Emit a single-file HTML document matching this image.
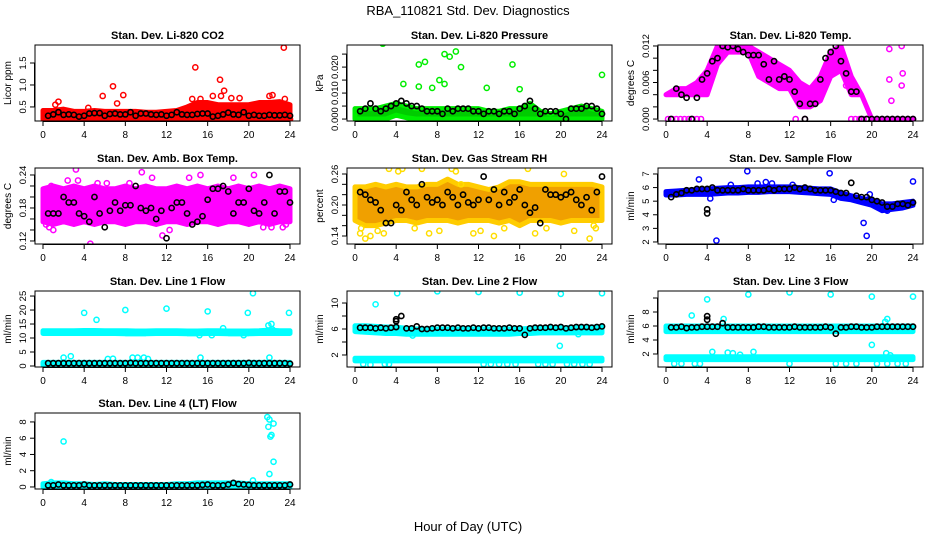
<!DOCTYPE html>
<html><head><meta charset="utf-8"><style>
body{margin:0;background:#fff;}
svg{display:block;font-family:"Liberation Sans",sans-serif;}
</style></head><body>
<svg id="chart" width="936" height="540" viewBox="0 0 936 540">
<rect width="936" height="540" fill="#fff"/>
<text x="468" y="15" text-anchor="middle" font-size="13">RBA_110821  Std. Dev. Diagnostics</text>
<text x="468" y="531" text-anchor="middle" font-size="13">Hour of Day (UTC)</text>
</svg>
<script>
// ---------- data ----------
const hoursBand = [0,1,2,3,4,5,6,7,8,9,10,11,12,13,14,15,16,17,18,19,20,21,22,23,24];
const blackHours = [0.5,1,1.5,2,2.5,3,3.5,4,4.5,5,5.5,6,6.5,7,7.5,8,8.5,9,9.5,10,10.5,11,11.5,12,12.5,13,13.5,14,14.5,15,15.5,16,16.5,17,17.5,18,18.5,19,19.5,20,20.5,21,21.5,22,22.5,23,23.5,24];
const xTicks = [0,4,8,12,16,20,24];

// P1 CO2
const co2Low = [0.22,0.22,0.22,0.22,0.22,0.22,0.22,0.22,0.22,0.22,0.22,0.22,0.22,0.22,0.22,0.22,0.22,0.22,0.22,0.22,0.22,0.22,0.22,0.22,0.22];
const co2High = [0.42,0.42,0.45,0.4,0.4,0.42,0.4,0.4,0.4,0.4,0.38,0.38,0.4,0.42,0.5,0.6,0.6,0.55,0.55,0.55,0.55,0.6,0.6,0.62,0.55];
const co2OutX = [1.5,1.2,5.8,6.8,7.2,7.8,4.4,14.5,14.8,15.3,17.2,17.6,17.3,16.5,18.3,19.1,22,22.3,23.4,23.5,24];
const co2OutY = [0.62,0.55,0.75,0.97,0.58,0.77,0.48,0.68,1.4,0.68,1.12,0.87,0.75,0.75,0.7,0.7,0.75,0.77,1.85,0.68,0.22];
const co2Black = [0.3,0.33,0.38,0.32,0.33,0.32,0.28,0.3,0.35,0.36,0.36,0.3,0.34,0.35,0.33,0.33,0.38,0.3,0.35,0.35,0.33,0.32,0.33,0.3,0.32,0.38,0.33,0.32,0.32,0.34,0.35,0.35,0.28,0.3,0.33,0.37,0.33,0.32,0.38,0.3,0.32,0.3,0.3,0.32,0.31,0.31,0.32,0.3];

// P2 pressure
const prLow = [0,0,0,0,0.0015,0.0005,0,0,0,0,0,0,0,0,0,0,0,0,0,0,0,0,0,0,0];
const prHigh = [0.004,0.004,0.004,0.005,0.006,0.005,0.004,0.004,0.004,0.004,0.004,0.004,0.004,0.003,0.003,0.004,0.004,0.006,0.003,0.002,0.003,0.004,0.005,0.004,0.003];
const prOutX = [2.7,4.7,6.2,6.8,8.7,9.2,9.8,10.3,8.2,8.7,7.5,6.2,15.3,24,16,12.8];
const prOutY = [0.029,0.0135,0.021,0.022,0.025,0.024,0.026,0.02,0.015,0.0135,0.012,0.0125,0.021,0.017,0.0115,0.012];
const prBlack = [0.003,0.004,0.006,0.004,0.003,0.004,0.005,0.006,0.007,0.006,0.005,0.005,0.004,0.003,0.003,0.003,0.002,0.004,0.003,0.004,0.004,0.004,0.003,0.003,0.002,0.003,0.003,0.002,0.003,0.003,0.002,0.004,0.005,0.007,0.004,0.002,0.003,0.003,0.003,0.002,0.0,0.004,0.004,0.004,0.005,0.005,0.004,0.002];

// P3 Li-820 temp
const tLow = [0.004,0.004,0.004,0.004,0.004,0.009,0.011,0.011,0.011,0.007,0.006,0.005,0.005,0.002,0.002,0.003,0.007,0.008,0.004,0.004,0,0,0,0,0];
const tHigh = [0.004,0.005,0.005,0.006,0.008,0.012,0.012,0.012,0.012,0.011,0.01,0.009,0.008,0.006,0.005,0.007,0.011,0.012,0.007,0.004,0,0,0,0,0];
const tOutX = [0.2,0.6,1.0,1.4,1.8,2.2,2.6,3.0,3.4,12.6,13.5,18.0,18.4,18.8,19.2,19.6,20,20.5,21,21.5,22,22.5,23,23.5,24,21.7,21.7,21.9,22.9,23,22.9,17.5];
const tOutY = [0,0,0,0,0,0,0,0,0,0,0,0,0,0,0,0,0,0,0,0,0,0,0,0,0,0.0115,0.0065,0.003,0.012,0.0075,0.0055,0.0055];
const tBlack = [0,0.005,0.004,0.0035,0,0.0035,0.0065,0.0075,0.0095,0.01,0.012,0.0118,0.012,0.0115,0.011,0.0105,0.0105,0.0105,0.009,0.0065,0.0095,0.0065,0.007,0.0065,0.0045,0.0025,0,0.0025,0.0025,0.0065,0.01,0.011,0.012,0.0095,0.0075,0.0045,0.0045,0,0,0,0,0,0,0,0,0,0,0];

// P4 box temp
const bLow = [0.155,0.15,0.155,0.15,0.155,0.15,0.155,0.155,0.15,0.155,0.155,0.15,0.155,0.155,0.15,0.155,0.155,0.15,0.155,0.155,0.15,0.155,0.15,0.155,0.155];
const bHigh = [0.215,0.22,0.215,0.22,0.215,0.22,0.215,0.215,0.22,0.215,0.22,0.215,0.215,0.22,0.215,0.22,0.215,0.22,0.215,0.22,0.215,0.22,0.215,0.22,0.215];
const bOutX = [0.3,0.6,1,1.5,2,2.4,3.2,3.4,4,4.2,4.6,5.3,6.2,6.6,7.8,8.4,9.6,10.6,11.6,12.3,14.2,15.3,18.5,20.5,21.4,22.2,23.3,23.6,23.5,1.6,0.8];
const bOutY = [0.15,0.145,0.14,0.19,0.16,0.23,0.25,0.23,0.2,0.16,0.115,0.225,0.225,0.2,0.215,0.225,0.245,0.235,0.13,0.14,0.235,0.24,0.235,0.24,0.145,0.145,0.145,0.15,0.215,0.155,0.22];
const bBlack = [0.17,0.17,0.17,0.2,0.19,0.19,0.17,0.165,0.155,0.2,0.17,0.145,0.175,0.19,0.175,0.185,0.185,0.22,0.18,0.175,0.18,0.16,0.175,0.125,0.18,0.19,0.19,0.17,0.15,0.155,0.165,0.195,0.215,0.215,0.22,0.21,0.17,0.19,0.19,0.215,0.175,0.17,0.19,0.24,0.17,0.21,0.21,0.19];

// P5 RH
const rhLow = [0.17,0.16,0.16,0.165,0.17,0.17,0.165,0.17,0.17,0.17,0.165,0.17,0.17,0.17,0.165,0.17,0.16,0.17,0.17,0.17,0.165,0.17,0.17,0.17,0.17];
const rhHigh = [0.235,0.235,0.24,0.235,0.24,0.235,0.235,0.24,0.24,0.25,0.24,0.24,0.235,0.23,0.235,0.245,0.245,0.24,0.24,0.24,0.24,0.24,0.24,0.24,0.235];
const rhOutX = [0.5,1,1.5,2.2,3.3,4.2,4.6,5.8,6.5,7.2,8.2,9.4,9.8,10.3,11.5,12.2,13.5,14.5,16.8,17.5,18.6,20.3,21.3,22.8,23.4,23.2,0.6,2.8];
const rhOutY = [0.145,0.135,0.14,0.15,0.27,0.265,0.27,0.155,0.27,0.145,0.15,0.27,0.265,0.24,0.145,0.15,0.14,0.155,0.27,0.145,0.155,0.26,0.15,0.135,0.155,0.16,0.155,0.145];
const rhBlack = [0.225,0.22,0.21,0.205,0.19,0.165,0.165,0.2,0.19,0.225,0.21,0.2,0.24,0.215,0.205,0.21,0.2,0.225,0.215,0.2,0.22,0.205,0.2,0.21,0.255,0.21,0.23,0.2,0.225,0.205,0.215,0.23,0.2,0.185,0.195,0.165,0.23,0.22,0.22,0.215,0.22,0.225,0.21,0.2,0.215,0.19,0.225,0.255];

// P6 sample flow
const sfLow = [5.45,5.45,5.5,5.5,5.5,5.55,5.6,5.6,5.65,5.65,5.7,5.7,5.7,5.65,5.6,5.55,5.5,5.2,5.1,4.9,4.7,4.3,4.4,4.5,4.7];
const sfHigh = [5.7,5.75,5.8,5.85,5.9,5.95,6.0,6.0,6.05,6.05,6.05,6.05,6.05,6.0,5.95,5.9,5.9,5.6,5.4,5.2,5.1,4.8,4.8,4.9,5.0];
const sfOutX = [3.2,4.3,4.9,7.9,9.7,10.3,8.9,15.9,16.3,19.2,19.5,19.8,24,21.5,6.3,12.3];
const sfOutY = [6.6,5.2,2.1,7.2,6.4,6.3,6.3,7.05,5.1,3.4,2.45,5.5,6.45,4.3,6.2,6.2];
const sfBlack = [5.3,5.5,5.6,5.8,5.8,5.9,5.9,5.9,6.0,5.8,5.8,5.8,5.8,5.8,5.9,5.8,5.8,5.8,5.8,5.9,5.8,5.9,5.9,5.9,6.0,5.9,6.0,5.9,5.8,5.8,5.8,5.8,5.7,5.6,5.6,6.35,5.4,5.3,5.3,5.1,5.0,4.9,4.6,4.6,4.8,4.8,4.7,4.9];
const sfBlackOutX = [4,4];
const sfBlackOutY = [4.4,4.1];

// P7 line 1
const l1HighA = [12.6,12.6,12.6,12.6,12.7,12.7,12.6,12.6,12.6,12.5,12.5,12.6,12.6,12.6,12.5,12.5,12.6,12.6,12.5,12.5,12.5,12.6,12.8,12.6,12.6];
const l1LowA = [11.6,11.6,11.6,11.6,11.6,11.6,11.6,11.6,11.5,11.5,11.5,11.6,11.6,11.6,11.5,11.5,11.6,11.6,11.5,11.5,11.5,11.6,11.6,11.6,11.6];
const l1HighB = [1.3,1.3,1.3,1.3,1.3,1.3,1.3,1.3,1.3,1.3,1.3,1.3,1.3,1.3,1.3,1.3,1.3,1.3,1.3,1.3,1.3,1.3,1.3,1.3,1.3];
const l1LowB = [0.3,0.3,0.3,0.3,0.3,0.3,0.3,0.3,0.3,0.3,0.3,0.3,0.3,0.3,0.3,0.3,0.3,0.3,0.3,0.3,0.3,0.3,0.3,0.3,0.3];
const l1OutX = [4,5.2,8,12,16,19.9,20.4,23.9,2,2.7,6.3,6.8,8.7,9.2,9.8,10.2,15.3,22,22.2,21.9,22.3,17.5,16.4,19.5,15.2];
const l1OutY = [19,16.5,20,20.5,19.5,19,26,19,3,3.5,2.5,2.6,3,3,3,2.5,3,3,15,14.5,13,13.5,11,11,11];
const l1Black = [1,1,1,1,1,1,1,1,1,1,1,1,1,1,1,1,1.1,1,1,1,1,1,1,1,1,1,1,1,1,1,1,1,1,1,1,1,1,1,1,1.1,1,1,1,1,1,1,1,0.8];

// P8 line 2
const l2HighA = [6.5,6.5,6.4,6.3,6.3,6.1,6.0,6.0,6.0,6.0,6.0,6.0,6.0,6.0,6.0,6.0,6.0,6.1,6.1,6.2,6.2,6.2,6.3,6.3,6.3];
const l2LowA = [5.6,5.5,5.4,5.3,5.3,5.2,5.2,5.2,5.2,5.2,5.2,5.2,5.2,5.2,5.2,5.2,5.3,5.3,5.4,5.4,5.4,5.4,5.4,5.4,5.4];
const l2HighB = [1.5,1.5,1.5,1.5,1.5,1.5,1.5,1.5,1.5,1.5,1.5,1.5,1.5,1.5,1.5,1.5,1.5,1.5,1.5,1.5,1.5,1.5,1.5,1.5,1.5];
const l2LowB = [1.1,1.1,1.1,1.1,1.1,1.1,1.1,1.1,1.1,1.1,1.1,1.1,1.1,1.1,1.1,1.1,1.1,1.1,1.1,1.1,1.1,1.1,1.1,1.1,1.1];
const l2OutX = [2,4.1,8,12,16,20,24,19.9,21.7,5.6,0.8,1.5,2.9,3.3,12.5,13.2,14,14.8,15.6,17.8,18.5,19.2,20.6,21.3,22.1,22.8];
const l2OutY = [9.8,11.5,11.8,11.7,11.6,11.4,11.5,3.4,5.2,5.0,0.6,0.5,0.6,0.6,0.6,0.6,0.6,0.6,0.6,0.6,0.6,0.6,0.6,0.6,0.6,0.6];
const l2Black = [6.2,6.2,6.2,6.1,6.2,6.1,6.2,6.3,8.0,6.1,6.1,6.4,6.0,6.0,6.1,6.2,6.2,6.2,6.1,6.2,6.1,6.1,6.2,6.1,6.2,6.2,6.1,6.1,6.1,6.2,6.1,6.1,5.1,6.1,6.2,6.2,6.2,6.3,6.2,6.3,6.1,6.2,6.3,6.3,6.3,6.2,6.3,6.4];
const l2BlackOutX = [4,4];
const l2BlackOutY = [7.2,7.5];

// P9 line 3
const l3HighA = [6.0,6.0,6.0,6.0,6.0,6.0,6.0,6.0,6.0,6.0,6.0,6.0,6.0,6.0,6.0,6.0,6.0,6.0,6.0,6.0,6.0,6.0,6.0,6.0,6.0];
const l3LowA = [5.2,5.2,5.2,5.2,5.2,5.2,5.2,5.2,5.2,5.2,5.2,5.2,5.2,5.2,5.2,5.2,5.2,5.2,5.2,5.2,5.2,5.2,5.2,5.2,5.2];
const l3HighB = [1.6,1.6,1.6,1.6,1.6,1.6,1.6,1.6,1.6,1.6,1.6,1.6,1.6,1.6,1.6,1.6,1.6,1.6,1.6,1.6,1.6,1.6,1.6,1.6,1.6];
const l3LowB = [1.2,1.2,1.2,1.2,1.2,1.2,1.2,1.2,1.2,1.2,1.2,1.2,1.2,1.2,1.2,1.2,1.2,1.2,1.2,1.2,1.2,1.2,1.2,1.2,1.2];
const l3OutX = [2.5,4,5.6,8,12,16,20,24,20,21.5,21.3,4.5,6,6.5,7.2,8.5,21.4,21.8,0.8,1.5,2.8,3.3,12,16.5,17.5,18.5,20.5,21.5,22.5,23.3];
const l3OutY = [7.5,9.8,7,10.5,10.8,10.5,10.2,10.2,3.3,7,6.6,2.3,2.2,2.1,1.9,2.3,2.1,1.8,0.6,0.6,0.6,0.6,0.6,0.6,0.6,0.6,0.6,0.6,0.6,0.6];
const l3Black = [5.8,5.8,5.9,5.7,5.8,5.8,5.9,5.9,5.9,5.9,6.4,5.8,5.8,5.8,5.8,5.8,5.8,5.9,5.9,5.8,5.8,5.8,5.8,5.8,5.9,5.8,5.8,5.8,5.8,5.8,5.9,5.8,4.9,5.8,5.8,5.9,5.9,5.8,5.8,5.8,5.9,5.9,5.9,5.9,5.9,5.9,5.9,5.9];
const l3BlackOutX = [4,4];
const l3BlackOutY = [6.9,7.4];

// P10 line 4
const l4Low = [0,0,0,0,0,0,0,0,0,0,0,0,0,0,0,0,0,0,0,0,0,0,0,0,0];
const l4High = [0.4,0.5,0.5,0.4,0.4,0.3,0.4,0.3,0.3,0.3,0.3,0.3,0.3,0.4,0.4,0.5,0.5,0.5,0.5,0.5,0.4,0.4,0.4,0.4,0.4];
const l4OutX = [2,21.8,21.9,22,22.1,22.2,22.4,22,22.4,20.4,0.8];
const l4OutY = [5.6,8.6,7.4,8.3,6.2,6.4,7.8,1.6,3.1,0.8,0.6];
const l4Black = [0.2,0.2,0.3,0.2,0.2,0.2,0.2,0.3,0.2,0.2,0.2,0.2,0.2,0.2,0.2,0.2,0.2,0.2,0.2,0.2,0.2,0.2,0.2,0.2,0.2,0.2,0.2,0.2,0.2,0.2,0.25,0.3,0.2,0.2,0.2,0.3,0.5,0.35,0.3,0.25,0.2,0.2,0.2,0.2,0.2,0.2,0.2,0.3];

// ---------- drawing ----------
const NS = "http://www.w3.org/2000/svg";
const svg = document.getElementById('chart');
function mk(tag, attrs, parent){
  const e = document.createElementNS(NS, tag);
  for (const k in attrs) e.setAttribute(k, attrs[k]);
  parent.appendChild(e);
  return e;
}
const colX = [35, 347, 658], rowY = [45, 168, 291, 413], PW = 265, PH = 76;

function panel(cfg){
  const L = colX[cfg.col], T = rowY[cfg.row];
  const g = mk('g', {}, svg);
  
  
  const sx = h => L + 8 + (h) * (247/24);
  const sy = v => T + PH - (v - cfg.ymin) / (cfg.ymax - cfg.ymin) * PH;
  const clip = 'clip-' + cfg.name;
  const cp = mk('clipPath', {id: clip}, g);
  mk('rect', {x: L, y: T, width: PW, height: PH}, cp);
  const pg = mk('g', {'clip-path': 'url(#' + clip + ')'}, g);
  (cfg.bands || []).forEach((b) => {
    let pts = hoursBand.map((h, i) => sx(h) + ',' + sy(b.hi[i]));
    pts = pts.concat(hoursBand.slice().reverse().map((h, j) => sx(h) + ',' + sy(b.lo[hoursBand.length - 1 - j])));
    const p = mk('polygon', {points: pts.join(' '), fill: b.fill || cfg.color, stroke: b.stroke || cfg.color, 'stroke-width': 5, 'stroke-linejoin': 'round'}, pg);
    
    
  });
  (cfg.outX || []).forEach((x, i) => {
    const c = mk('circle', {cx: sx(x), cy: sy(cfg.outY[i]), r: 2.6, fill: cfg.outFill || 'none', stroke: cfg.outStroke || cfg.color, 'stroke-width': 1.5}, pg);
    
    
  });
  cfg.black.forEach((v, i) => {
    const c = mk('circle', {cx: sx(blackHours[i]), cy: sy(v), r: 2.6, fill: 'none', stroke: '#000', 'stroke-width': 1.6}, pg);
    
    
  });
  (cfg.bOutX || []).forEach((x, i) => {
    const c = mk('circle', {cx: sx(x), cy: sy(cfg.bOutY[i]), r: 2.6, fill: 'none', stroke: '#000', 'stroke-width': 1.6}, pg);
    
    
  });
  const fr = mk('rect', {x: L, y: T, width: PW, height: PH, fill: 'none', stroke: '#000', 'stroke-width': 1}, g);
  
  
  const tt = mk('text', {x: L + PW/2, y: T - 6, 'text-anchor': 'middle', 'font-size': 11, 'font-weight': 'bold'}, g);
  tt.textContent = cfg.title;
  
  
  const xb = T + PH;
  mk('line', {x1: sx(0), x2: sx(24), y1: xb + 0.5, y2: xb + 0.5, stroke: '#000'}, g);
  xTicks.forEach(h => {
    mk('line', {x1: sx(h), x2: sx(h), y1: xb, y2: xb + 5, stroke: '#000'}, g);
    const t = mk('text', {x: sx(h), y: xb + 17, 'text-anchor': 'middle', 'font-size': 10}, g);
    t.textContent = h;
    
    
  });
  const yt = cfg.yticks;
  mk('line', {x1: L - 0.5, x2: L - 0.5, y1: sy(yt[0]), y2: sy(yt[yt.length - 1]), stroke: '#000'}, g);
  yt.forEach((v, i) => {
    mk('line', {x1: L - 5, x2: L, y1: sy(v), y2: sy(v), stroke: '#000'}, g);
    if (cfg.ylabels[i] !== '') {
      const t = mk('text', {x: L - 9, y: sy(v), 'text-anchor': 'middle', 'font-size': 9.5, transform: 'rotate(-90 ' + (L - 9) + ' ' + sy(v) + ')'}, g);
      t.textContent = cfg.ylabels[i];
      
      
    }
  });
  const yl = mk('text', {x: L - 24, y: T + PH/2, 'text-anchor': 'middle', 'font-size': 10, transform: 'rotate(-90 ' + (L - 24) + ' ' + (T + PH/2) + ')'}, g);
  yl.textContent = cfg.ylab;
  
  
}

const CY = '#00ffff', MG = '#ff00ff';
panel({name:'co2-panel', col:0,row:0, title:'Stan. Dev. Li-820 CO2', ylab:'Licor ppm', ymin:0.18, ymax:1.91, yticks:[0.5,1,1.5], ylabels:['0.5','1.0','1.5'], color:'#ff0000', bands:[{lo:co2Low,hi:co2High}], outX:co2OutX, outY:co2OutY, black:co2Black});
panel({name:'pressure-panel', col:1,row:0, title:'Stan. Dev. Li-820 Pressure', ylab:'kPa', ymin:-0.00075, ymax:0.0285, yticks:[0,0.005,0.01,0.015,0.02,0.025], ylabels:['0.000','','0.010','','0.020',''], color:'#00ee00', bands:[{lo:prLow,hi:prHigh,fill:'#00cc00'}], outX:prOutX, outY:prOutY, black:prBlack});
panel({name:'temp-panel', col:2,row:0, title:'Stan. Dev. Li-820 Temp.', ylab:'degrees C', ymin:-0.00032, ymax:0.01216, yticks:[0,0.002,0.004,0.006,0.008,0.01,0.012], ylabels:['0.000','','','0.006','','','0.012'], color:MG, bands:[{lo:tLow,hi:tHigh}], outX:tOutX, outY:tOutY, black:tBlack});
panel({name:'box-temp-panel', col:0,row:1, title:'Stan. Dev. Amb. Box Temp.', ylab:'degrees C', ymin:0.1145, ymax:0.2527, yticks:[0.12,0.14,0.16,0.18,0.2,0.22,0.24], ylabels:['0.12','','','0.18','','','0.24'], color:MG, bands:[{lo:bLow,hi:bHigh}], outX:bOutX, outY:bOutY, black:bBlack});
panel({name:'rh-panel', col:1,row:1, title:'Stan. Dev. Gas Stream RH', ylab:'percent', ymin:0.1245, ymax:0.2716, yticks:[0.14,0.16,0.18,0.2,0.22,0.24,0.26], ylabels:['0.14','','','0.20','','','0.26'], color:'#ff9900', bands:[{lo:rhLow,hi:rhHigh,fill:'#f0a000',stroke:'#ffcc00'}], outX:rhOutX, outY:rhOutY, outStroke:'#ffdd00', outFill:'none', black:rhBlack});
panel({name:'sample-flow-panel', col:2,row:1, title:'Stan. Dev. Sample Flow', ylab:'ml/min', ymin:1.85, ymax:7.44, yticks:[2,3,4,5,6,7], ylabels:['2','3','4','5','6','7'], color:'#0000ff', bands:[{lo:sfLow,hi:sfHigh}], outX:sfOutX, outY:sfOutY, black:sfBlack, bOutX:sfBlackOutX, bOutY:sfBlackOutY});
panel({name:'line1-flow-panel', col:0,row:2, title:'Stan. Dev. Line 1 Flow', ylab:'ml/min', ymin:-0.36, ymax:26.8, yticks:[0,5,10,15,20,25], ylabels:['0','5','10','15','20','25'], color:CY, bands:[{lo:l1LowA,hi:l1HighA},{lo:l1LowB,hi:l1HighB}], outX:l1OutX, outY:l1OutY, black:l1Black});
panel({name:'line2-flow-panel', col:1,row:2, title:'Stan. Dev. Line 2 Flow', ylab:'ml/min', ymin:0.15, ymax:11.85, yticks:[2,4,6,8,10], ylabels:['2','','6','','10'], color:CY, bands:[{lo:l2LowA,hi:l2HighA},{lo:l2LowB,hi:l2HighB}], outX:l2OutX, outY:l2OutY, black:l2Black, bOutX:l2BlackOutX, bOutY:l2BlackOutY});
panel({name:'line3-flow-panel', col:2,row:2, title:'Stan. Dev. Line 3 Flow', ylab:'ml/min', ymin:0.14, ymax:11, yticks:[2,4,6,8,10], ylabels:['2','4','6','8',''], color:CY, bands:[{lo:l3LowA,hi:l3HighA},{lo:l3LowB,hi:l3HighB}], outX:l3OutX, outY:l3OutY, black:l3Black, bOutX:l3BlackOutX, bOutY:l3BlackOutY});
panel({name:'line4-flow-panel', col:0,row:3, title:'Stan. Dev. Line 4 (LT) Flow', ylab:'ml/min', ymin:-0.25, ymax:9.1, yticks:[0,2,4,6,8], ylabels:['0','2','4','6','8'], color:CY, bands:[{lo:l4Low,hi:l4High}], outX:l4OutX, outY:l4OutY, black:l4Black});
</script>
</body></html>
